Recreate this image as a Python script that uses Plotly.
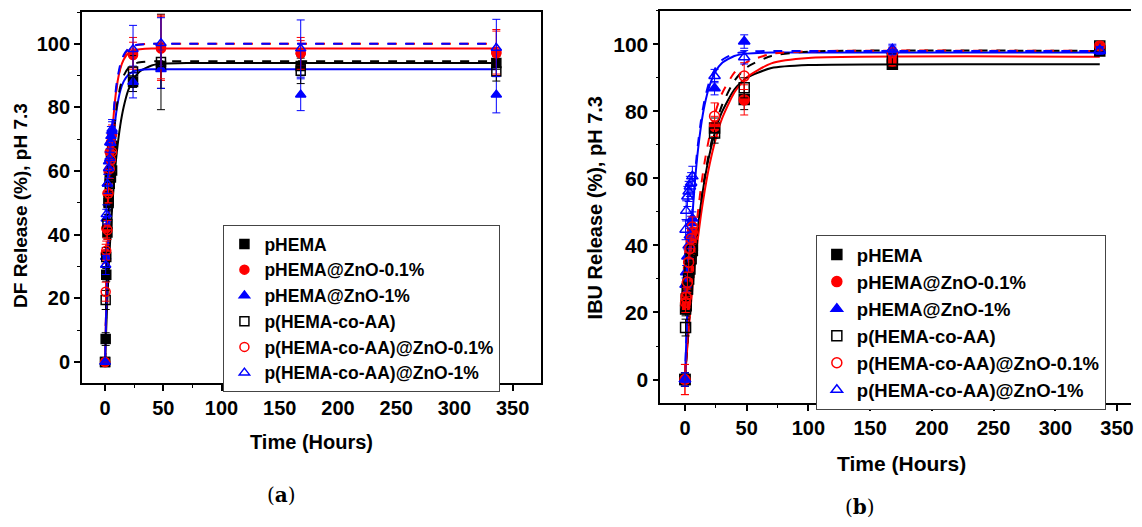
import plotly.graph_objects as go

# ---------------- DATA ----------------
series_names = ["pHEMA", "pHEMA@ZnO-0.1%", "pHEMA@ZnO-1%",
                "p(HEMA-co-AA)", "p(HEMA-co-AA)@ZnO-0.1%", "p(HEMA-co-AA)@ZnO-1%"]

time_points = [0, 0.5, 1, 2, 3, 4, 5, 6, 24, 48, 168, 336]

# (a) DF release, pH 7.3
df_phema        = [0, 7.2, 27.4, 40.7, 50.0, 58.0, 64.0, 68.0, 88.0, 93.0, 93.0, 94.0]
df_phema_zno01  = [0, 34.0, 42.0, 53.0, 60.0, 66.0, 69.0, 71.5, 96.5, 98.5, 97.0, 97.0]
df_phema_zno1   = [0, 33.0, 45.0, 56.0, 63.0, 69.0, 71.0, 72.5, 88.0, 92.0, 84.0, 84.0]
df_coaa         = [0, 19.5, 33.0, 43.4, 50.5, 56.0, 58.0, 60.2, 91.3, 94.3, 91.5, 91.3]
df_coaa_zno01   = [0, 22.1, 35.0, 41.5, 53.0, 60.7, 63.5, 66.0, 97.0, 99.0, 97.0, 97.5]
df_coaa_zno1    = [0, 30.5, 46.4, 56.0, 60.9, 64.0, 68.8, 73.2, 98.3, 100.2, 98.5, 98.7]

df_err_phema       = [0, 2, 2, 2, 2, 2, 2, 2, 3, 7, 3, 2]
df_err_phema_zno01 = [0, 3, 3, 3, 3, 3, 3, 3, 4, 10, 4, 7]
df_err_phema_zno1  = [0, 3, 3, 3, 3, 3, 3, 3, 5, 6, 5, 5.7]
df_err_coaa        = [0, 3, 3, 3, 3, 3, 3, 3, 5, 15, 4, 3]
df_err_coaa_zno01  = [0, 3, 3, 3, 3, 3, 3, 3, 5, 10, 5, 7]
df_err_coaa_zno1   = [0, 3, 3, 3, 3, 3, 3, 3, 7.5, 8, 9, 9]

# (b) IBU release, pH 7.3
ibu_phema       = [0, 21.0, 24.0, 27.0, 32.0, 36.0, 38.5, 40.0, 75.0, 83.5, 94.0, 98.0]
ibu_phema_zno01 = [0, 22.0, 25.0, 29.0, 33.0, 38.0, 41.0, 44.0, 75.5, 83.4, 95.0, 99.0]
ibu_phema_zno1  = [0, 28.3, 32.0, 36.7, 40.0, 43.0, 46.7, 48.0, 86.9, 100.8, 98.0, 98.0]
ibu_coaa        = [0, 15.5, 22.0, 27.0, 30.0, 33.0, 36.0, 38.5, 73.5, 87.0, 95.5, 99.5]
ibu_coaa_zno01  = [0, 23.0, 24.5, 29.0, 35.0, 39.0, 42.0, 45.5, 78.5, 90.5, 97.5, 99.5]
ibu_coaa_zno1   = [0, 44.7, 50.3, 54.6, 56.1, 57.6, 58.7, 60.6, 90.5, 96.1, 98.5, 98.3]

ibu_err_phema       = [2, 2, 2, 2, 2, 2, 2, 2, 3, 3, 1.5, 1]
ibu_err_phema_zno01 = [4.5, 2, 2, 2, 2, 2, 2, 2, 3, 4.5, 1.5, 1]
ibu_err_phema_zno1  = [2, 2, 2, 2, 2, 2, 2, 2, 2, 2, 1.5, 1]
ibu_err_coaa        = [2, 2.5, 2.5, 2, 2, 2, 2, 2, 3, 3, 1.5, 1]
ibu_err_coaa_zno01  = [4.5, 3, 3, 3, 3, 3, 3, 3, 4, 4, 1.5, 1]
ibu_err_coaa_zno1   = [2, 3, 3, 3, 3, 3, 3, 3, 2, 2, 1.5, 1]

# fitted curves
fit_t = [0, 1, 2, 3, 4, 6, 8, 10, 13, 16, 20, 25, 30, 40, 50, 70, 100, 336]
df_fit_phema       = [0, 10.6, 20.0, 28.4, 35.8, 48.2, 58.0, 65.7, 74.3, 80.2, 85.5, 89.3, 91.4, 93.2, 93.8, 94.0, 94.0, 94.0]
df_fit_phema_zno01 = [0, 18.6, 33.8, 46.0, 56.0, 70.5, 80.2, 86.5, 92.1, 95.1, 97.0, 98.0, 98.3, 98.5, 98.5, 98.5, 98.5, 98.5]
df_fit_phema_zno1  = [0, 16.7, 30.3, 41.5, 50.7, 64.3, 73.4, 79.5, 85.2, 88.2, 90.3, 91.4, 91.8, 92.0, 92.0, 92.0, 92.0, 92.0]
df_fit_coaa        = [0, 16.3, 29.9, 41.0, 50.3, 64.3, 73.8, 80.4, 86.5, 90.0, 92.4, 93.7, 94.2, 94.5, 94.5, 94.5, 94.5, 94.5]
df_fit_coaa_zno01  = [0, 18.1, 33.0, 45.1, 55.1, 69.9, 79.8, 86.5, 92.6, 95.9, 98.2, 99.3, 99.8, 100, 100, 100, 100, 100]
df_fit_coaa_zno1   = [0, 18.9, 34.3, 46.7, 56.8, 71.6, 81.4, 87.8, 93.5, 96.5, 98.5, 99.5, 99.8, 100, 100, 100, 100, 100]

ibu_fit_phema       = [0, 5.7, 11.1, 16.1, 21.0, 29.6, 37.2, 43.9, 52.5, 59.7, 67.3, 74.6, 79.8, 86.5, 90.0, 92.9, 93.8, 94.0]
ibu_fit_phema_zno01 = [0, 5.2, 10.0, 14.6, 19.0, 27.1, 34.3, 40.7, 49.2, 56.3, 64.2, 71.9, 77.8, 85.6, 90.1, 94.3, 95.9, 96.3]
ibu_fit_phema_zno1  = [0, 10.6, 20.1, 28.5, 36.0, 48.6, 58.7, 66.6, 75.6, 82.0, 87.7, 92.0, 94.4, 96.5, 97.2, 97.5, 97.5, 97.5]
ibu_fit_coaa        = [0, 5.7, 11.1, 16.2, 20.9, 29.6, 37.3, 44.2, 53.1, 60.5, 68.5, 76.1, 81.8, 89.1, 93.1, 96.5, 97.8, 98.0]
ibu_fit_coaa_zno01  = [0, 6.4, 12.4, 18.1, 23.3, 32.8, 41.2, 48.3, 57.5, 65.0, 72.8, 80.1, 85.3, 91.5, 94.7, 97.1, 97.9, 98.0]
ibu_fit_coaa_zno1   = [0, 11.1, 20.9, 29.6, 37.3, 50.3, 60.6, 68.5, 77.3, 83.6, 89.1, 93.1, 95.3, 97.2, 97.8, 98.0, 98.0, 98.0]

x_ticks = [0, 50, 100, 150, 200, 250, 300, 350]
y_ticks = [0, 20, 40, 60, 80, 100]

# ---------------- STYLE ----------------
colors = ["#000000", "#ff0000", "#0000ff", "#000000", "#ff0000", "#0000ff"]
symbols = ["square", "circle", "triangle-up", "square-open", "circle-open", "triangle-up-open"]
dashes = ["solid", "solid", "solid", "dash", "dash", "dash"]
FONT = "Liberation Sans, Arial, sans-serif"

# page body has an 8 px margin on every side: lay out in window pixels,
# shifted by it, and keep the figure inside the body box
OFF = 8
W, H = 1142 - 2 * OFF, 527 - 2 * OFF


def fx(px):
    return (px - OFF) / W


def fy(py):
    return 1 - (py - OFF) / H


fig = go.Figure()

panels = [
    dict(xa="x", ya="y", legend="legend", msize=9,
         vals=[df_phema, df_phema_zno01, df_phema_zno1, df_coaa, df_coaa_zno01, df_coaa_zno1],
         errs=[df_err_phema, df_err_phema_zno01, df_err_phema_zno1, df_err_coaa, df_err_coaa_zno01, df_err_coaa_zno1],
         fits=[df_fit_phema, df_fit_phema_zno01, df_fit_phema_zno1, df_fit_coaa, df_fit_coaa_zno01, df_fit_coaa_zno1]),
    dict(xa="x2", ya="y2", legend="legend2", msize=10,
         vals=[ibu_phema, ibu_phema_zno01, ibu_phema_zno1, ibu_coaa, ibu_coaa_zno01, ibu_coaa_zno1],
         errs=[ibu_err_phema, ibu_err_phema_zno01, ibu_err_phema_zno1, ibu_err_coaa, ibu_err_coaa_zno01, ibu_err_coaa_zno1],
         fits=[ibu_fit_phema, ibu_fit_phema_zno01, ibu_fit_phema_zno1, ibu_fit_coaa, ibu_fit_coaa_zno01, ibu_fit_coaa_zno1]),
]

for p in panels:
    for i in range(6):
        fig.add_trace(go.Scatter(
            x=fit_t, y=p["fits"][i], mode="lines", xaxis=p["xa"], yaxis=p["ya"],
            line=dict(color=colors[i], width=2, dash=dashes[i], shape="spline", smoothing=0.6),
            showlegend=False, hoverinfo="skip"))
    for i in range(6):
        fig.add_trace(go.Scatter(
            x=time_points, y=p["vals"][i], mode="markers", name=series_names[i],
            xaxis=p["xa"], yaxis=p["ya"], legend=p["legend"],
            marker=dict(symbol=symbols[i], size=p["msize"], color=colors[i],
                        line=dict(color=colors[i], width=1.5)),
            error_y=dict(type="data", array=p["errs"][i], visible=True,
                         color=colors[i], thickness=1, width=4)))


def xaxis_cfg(domain, rng, mirror, size, anchor):
    return dict(domain=domain, range=rng, anchor=anchor, showline=True, linecolor="black", linewidth=1.5,
                mirror=mirror, ticks="outside", ticklen=6, tickwidth=1.5, tickcolor="black",
                tickvals=x_ticks, showgrid=False, zeroline=False, ticklabeloverflow="allow",
                minor=dict(ticks="outside", ticklen=3, tickwidth=1.2, tickcolor="black", dtick=25, tick0=0),
                tickfont=dict(family=FONT, size=size, color="black", weight="bold"))


def yaxis_cfg(domain, rng, mirror, size, anchor):
    return dict(domain=domain, range=rng, anchor=anchor, showline=True, linecolor="black", linewidth=1.5,
                mirror=mirror, ticks="outside", ticklen=6, tickwidth=1.5, tickcolor="black",
                tickvals=y_ticks, showgrid=False, zeroline=False,
                minor=dict(ticks="outside", ticklen=3, tickwidth=1.2, tickcolor="black", dtick=10, tick0=0),
                tickfont=dict(family=FONT, size=size, color="black", weight="bold"))


# right panel: 1.24 px per hour, x = 0 at window pixel 686, frame runs to the figure's right edge
right_end = (OFF + W - 686) / 1.24

fig.update_layout(
    width=W, height=H, margin=dict(l=0, r=0, t=0, b=0),
    paper_bgcolor="white", plot_bgcolor="white",
    xaxis=xaxis_cfg([fx(82), fx(542)], [-20, 374], True, 20, "y"),
    yaxis=yaxis_cfg([fy(383), fy(12)], [-6.6, 110], True, 20, "x"),
    xaxis2=xaxis_cfg([fx(662), 1.0], [-20, right_end], True, 20, "y2"),
    yaxis2=yaxis_cfg([fy(403), fy(10.7)], [-7, 110], False, 21, "x2"),
    legend=dict(x=fx(224), y=fy(225), xanchor="left", yanchor="top",
                bordercolor="#444444", borderwidth=1, bgcolor="white",
                font=dict(family=FONT, size=17.5, color="black", weight="bold")),
    legend2=dict(x=fx(818), y=fy(235), xanchor="left", yanchor="top",
                 bordercolor="#444444", borderwidth=1, bgcolor="white",
                 font=dict(family=FONT, size=18.5, color="black", weight="bold")),
    showlegend=True,
)

ann = [
    dict(text="DF Release (%), pH 7.3", x=21, y=205, textangle=-90, size=19),
    dict(text="Time (Hours)", x=312, y=442, textangle=0, size=20),
    dict(text="IBU Release (%), pH 7.3", x=597, y=208, textangle=-90, size=20),
    dict(text="Time (Hours)", x=904, y=463, textangle=0, size=21),
]
for a in ann:
    fig.add_annotation(text=a["text"], x=fx(a["x"]), y=fy(a["y"]), xref="paper", yref="paper",
                       xanchor="center", yanchor="middle", textangle=a["textangle"], showarrow=False,
                       font=dict(family=FONT, size=a["size"], color="black", weight="bold"))

fig.add_annotation(text="(<b>a</b>)", x=fx(282), y=fy(495), xref="paper", yref="paper",
                   xanchor="center", yanchor="middle", showarrow=False,
                   font=dict(family="DejaVu Serif, Liberation Serif, serif", size=20, color="black"))
fig.add_annotation(text="(<b>b</b>)", x=fx(862), y=fy(507), xref="paper", yref="paper",
                   xanchor="center", yanchor="middle", showarrow=False,
                   font=dict(family="DejaVu Serif, Liberation Serif, serif", size=20, color="black"))

fig.write_html("out.html")
